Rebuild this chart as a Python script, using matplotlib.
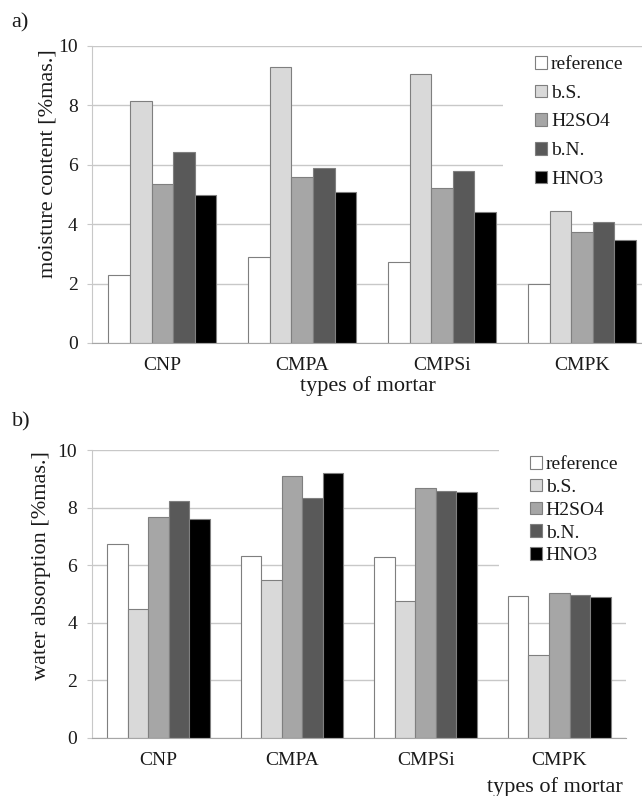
import matplotlib
matplotlib.use("Agg")
import matplotlib.pyplot as plt
from matplotlib import font_manager
from matplotlib.patches import Rectangle
import numpy as np

# data
mortars = ["CNP", "CMPA", "CMPSi", "CMPK"]
series = ["reference", "b.S.", "H2SO4", "b.N.", "HNO3"]
colors = ["#ffffff", "#d9d9d9", "#a6a6a6", "#595959", "#000000"]

# a) moisture content
mc_reference = [2.28, 2.90, 2.73, 2.00]
mc_bS = [8.14, 9.30, 9.05, 4.43]
mc_h2so4 = [5.36, 5.60, 5.20, 3.75]
mc_bN = [6.44, 5.90, 5.78, 4.07]
mc_hno3 = [4.97, 5.08, 4.42, 3.47]

# b) water absorption
wa_reference = [6.73, 6.30, 6.27, 4.92]
wa_bS = [4.47, 5.47, 4.75, 2.87]
wa_h2so4 = [7.69, 9.10, 8.67, 5.02]
wa_bN = [8.23, 8.33, 8.58, 4.95]
wa_hno3 = [7.60, 9.20, 8.55, 4.88]

# times-like font
fam = "DejaVu Serif"
for f in font_manager.findSystemFonts():
    if "LiberationSerif-Regular" in f:
        font_manager.fontManager.addfont(f)
        fam = font_manager.FontProperties(fname=f).get_name()
        break
plt.rcParams['font.family'] = [fam, 'DejaVu Serif']
txt = "#1a1a1a"
grid_c = "#c8c8c8"

fig = plt.figure(figsize=(6.42, 7.96), dpi=100)
ax1 = fig.add_axes([0.1438, 0.5691, 0.8718, 0.3735])
ax2 = fig.add_axes([0.1428, 0.0732, 0.8323, 0.3614])


def draw(ax, data, ylabel, legend_xy, spacing, cover, xlabel_xy, ylabel_xy):
    x = np.arange(len(mortars))
    w = 0.77 / len(series)
    for i, vals in enumerate(data):
        ax.bar(x - 0.385 + w * (i + 0.5), vals, w, color=colors[i],
               edgecolor="#7f7f7f", linewidth=0.8, label=series[i], zorder=2)
    ax.set_xlim(-0.5, 3.5)
    ax.set_ylim(0, 10)
    ax.set_yticks([0, 2, 4, 6, 8, 10])
    ax.set_xticks(x)
    ax.set_xticklabels(mortars)
    ax.set_axisbelow(True)
    ax.grid(axis="y", color=grid_c, linewidth=1.0)
    for s in ["top", "right"]:
        ax.spines[s].set_visible(False)
    ax.spines["left"].set_color(grid_c)
    ax.spines["bottom"].set_color("#a6a6a6")
    ax.tick_params(axis="y", length=3.6, color=grid_c, pad=7, labelsize=14, labelcolor=txt)
    ax.tick_params(axis="x", length=0, pad=10, labelsize=14, labelcolor=txt)
    ax.set_ylabel(ylabel, fontsize=16, color=txt)
    ax.yaxis.set_label_coords(*ylabel_xy)
    ax.set_xlabel("types of mortar", fontsize=16, color=txt)
    ax.xaxis.set_label_coords(*xlabel_xy)
    # white area behind legend hides gridlines
    ax.add_patch(Rectangle((cover[0], cover[1]), 1.5, cover[2], transform=ax.transAxes,
                           facecolor="white", edgecolor="none", zorder=1, clip_on=False))
    leg = ax.legend(loc="upper left", bbox_to_anchor=legend_xy, frameon=False,
                    fontsize=14, handlelength=0.62, handleheight=0.62,
                    handletextpad=0.2, labelspacing=spacing, borderpad=0,
                    borderaxespad=0)
    for t in leg.get_texts():
        t.set_color(txt)


draw(ax1, [mc_reference, mc_bS, mc_h2so4, mc_bN, mc_hno3],
     "moisture content [%mas.]", (0.791, 0.965), 0.59,
     (0.734, 0.50, 0.485), (0.4926, -0.111), (-0.063, 0.605))
draw(ax2, [wa_reference, wa_bS, wa_h2so4, wa_bN, wa_hno3],
     "water absorption [%mas.]", (0.820, 0.979), 0.29,
     (0.762, 0.566, 0.45), (0.867, -0.137), (-0.076, 0.60))

fig.text(0.018, 0.971, "a)", fontsize=16, color=txt, va="center")
fig.text(0.018, 0.470, "b)", fontsize=16, color=txt, va="center")

fig.savefig("out.png", dpi=100)
